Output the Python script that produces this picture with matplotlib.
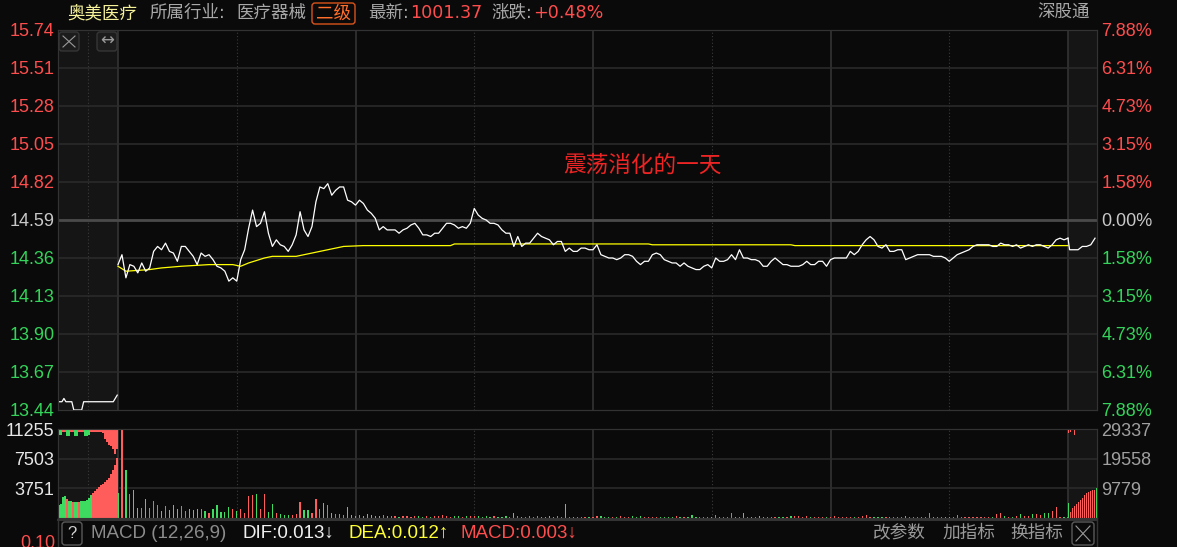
import matplotlib
matplotlib.use("Agg")
import matplotlib.pyplot as plt
from matplotlib.patches import FancyBboxPatch
from matplotlib.lines import Line2D
import numpy as np

plt.rcParams['font.family'] = ['Liberation Sans', 'Noto Sans CJK SC', 'DejaVu Sans']

# ---------------- data ----------------
PREV_CLOSE = 14.59
price_ticks = [13.44, 13.67, 13.90, 14.13, 14.36, 14.59, 14.82, 15.05, 15.28, 15.51, 15.74]
vol_max_left = 11255
vol_max_right = 29337

# one price per minute, 9:30 .. 11:30/13:00 .. 15:00
prices = [
    14.32, 14.38, 14.24, 14.32, 14.31, 14.27, 14.33, 14.28, 14.30, 14.40,
    14.43, 14.41, 14.45, 14.40, 14.39, 14.34, 14.43, 14.43, 14.40, 14.37,
    14.32, 14.39, 14.37, 14.38, 14.35, 14.31, 14.30, 14.28, 14.22, 14.24,
    14.22, 14.35, 14.41, 14.54, 14.65, 14.55, 14.57, 14.64, 14.51, 14.43,
    14.47, 14.44, 14.43, 14.40, 14.44, 14.50, 14.64, 14.53, 14.49, 14.55,
    14.70, 14.79, 14.78, 14.81, 14.74, 14.77, 14.79, 14.79, 14.71, 14.70,
    14.68, 14.71, 14.69, 14.65, 14.63, 14.60, 14.53, 14.55, 14.53, 14.53,
    14.53, 14.51, 14.53, 14.54, 14.56, 14.57, 14.54, 14.50, 14.50, 14.49,
    14.51, 14.51, 14.54, 14.57, 14.57, 14.56, 14.54, 14.55, 14.54, 14.57,
    14.66, 14.62, 14.60, 14.59, 14.57, 14.57, 14.56, 14.53, 14.51, 14.51,
    14.43, 14.49, 14.43, 14.45, 14.45, 14.48, 14.51, 14.49, 14.48, 14.47,
    14.44, 14.46, 14.46, 14.40, 14.42, 14.40, 14.40, 14.42, 14.42, 14.41,
    14.41, 14.44, 14.38, 14.37, 14.36, 14.36, 14.35, 14.36, 14.38, 14.38,
    14.37, 14.34, 14.32, 14.34, 14.34, 14.38, 14.39, 14.38, 14.35, 14.34,
    14.33, 14.33, 14.31, 14.33, 14.31, 14.30, 14.29, 14.29, 14.31, 14.32,
    14.30, 14.36, 14.34, 14.34, 14.35, 14.38, 14.35, 14.41, 14.36, 14.36,
    14.35, 14.35, 14.34, 14.31, 14.31, 14.34, 14.36, 14.34, 14.32, 14.32,
    14.31, 14.31, 14.31, 14.32, 14.34, 14.32, 14.32, 14.34, 14.34, 14.31,
    14.35, 14.36, 14.36, 14.36, 14.36, 14.40, 14.38, 14.40, 14.44, 14.47,
    14.49, 14.47, 14.43, 14.42, 14.44, 14.40, 14.40, 14.41, 14.41, 14.35,
    14.36, 14.37, 14.38, 14.38, 14.38, 14.38, 14.37, 14.37, 14.37, 14.36,
    14.34, 14.36, 14.38, 14.39, 14.40, 14.41, 14.43, 14.44, 14.44, 14.44,
    14.44, 14.43, 14.43, 14.45, 14.44, 14.44, 14.43, 14.44, 14.42, 14.43,
    14.44, 14.43, 14.44, 14.44, 14.43, 14.42, 14.44, 14.47, 14.48, 14.47, 14.48,
]

avg_minutes = [0, 2, 8, 11, 16, 23, 29, 31, 33, 37, 39, 45, 49, 53, 57, 62, 84, 85, 134, 135, 170, 171, 240]
avg_prices = [14.31, 14.28, 14.29, 14.30, 14.31, 14.32, 14.32, 14.31, 14.33, 14.36, 14.37, 14.37,
              14.39, 14.41, 14.43, 14.435, 14.435, 14.445, 14.445, 14.44, 14.44, 14.435, 14.435]

volumes = [
    3200, 13000, 6070, 3040, 3540, 1230, 1230, 2400, 1300, 2110,
    1640, 920, 1520, 1010, 1640, 1100, 1520, 920, 1140, 1010,
    1100, 1140, 920, 670, 1100, 1640, 800, 800, 1350, 1100,
    920, 1140, 670, 2780, 2870, 3000, 1180, 3000, 760, 1810,
    675, 550, 340, 340, 420, 550, 2030, 970, 970, 675,
    2450, 1180, 1940, 1600, 675, 550, 550, 340, 1390, 340,
    250, 340, 210, 550, 340, 250, 210, 380, 210, 250,
    210, 170, 250, 210, 170, 210, 250, 170, 210, 170,
    210, 250, 340, 210, 170, 250, 210, 170, 250, 210,
    300, 210, 170, 210, 170, 210, 170, 170, 210, 170,
    630, 210, 170, 170, 210, 170, 210, 170, 170, 210,
    170, 210, 170, 1730, 170, 130, 170, 130, 170, 130,
    170, 300, 300, 130, 130, 130, 130, 200, 130, 130,
    200, 130, 250, 130, 130, 130, 130, 130, 130, 130,
    130, 200, 130, 130, 130, 340, 130, 130, 130, 130,
    130, 340, 130, 130, 130, 630, 130, 130, 630, 130,
    130, 130, 200, 130, 130, 130, 130, 130, 130, 130,
    200, 200, 250, 130, 250, 130, 130, 130, 130, 130,
    130, 200, 130, 130, 130, 130, 130, 130, 250, 340,
    130, 130, 130, 130, 130, 130, 130, 130, 130, 250,
    130, 130, 130, 130, 130, 590, 130, 130, 130, 130,
    130, 130, 380, 130, 130, 130, 130, 130, 130, 130,
    130, 130, 506, 633, 295, 130, 130, 300, 464, 295,
    295, 464, 549, 330, 590, 675, 850, 1380, 100, 100, 100,
]

# call auction before the open (left shaded block)
auc_prices = [13.49, 13.49, 13.49, 13.51, 13.49, 13.49, 13.49, 13.49, 13.44, 13.44,
              13.44, 13.44, 13.44, 13.49, 13.49, 13.49, 13.49, 13.49, 13.49, 13.49,
              13.49, 13.49, 13.49, 13.49, 13.49, 13.49, 13.49, 13.49, 13.49, 13.51, 13.53]
auc_vol_bottom = [1640, 1770, 2660, 2780, 2400, 2150, 2150, 2020, 2020, 2020,
                  2020, 2150, 2150, 2150, 2280, 2530, 2910, 3160, 3420, 3670,
                  3920, 4170, 4300, 4550, 4810, 5060, 5570, 6070, 6700, 7590]
auc_bottom_colors = "GGGGRGGRGGRGGGGGGRRRRRRRRRRRRR"
auc_vol_top = [760, 760, 380, 380, 890, 890, 380, 380, 890, 890,
               380, 380, 380, 890, 890, 760, 380, 380, 380, 380,
               380, 380, 510, 1270, 1640, 2020, 2150, 2530, 3160, 2530]
auc_top_colors = "GGRRGGRRGGRRRGGGRRRRRRRRRRRRRR"

# right shaded block (right-hand volume scale)
post_prices = [14.41, 14.41, 14.41, 14.43, 14.43, 14.44, 14.48]
post_vol_bottom = [5040, 2090, 3400, 4060, 4610, 5380, 5930, 6480, 7580, 8130, 8680, 8900, 9230, 9230, 9780]
post_bottom_colors = "GRRRRRRRRRRRRRG"
post_vol_top = [1200, 990, 330, 2090, 330, 330, 330, 330, 330, 330, 330, 330, 330, 330, 330]
post_top_colors = "RRRRRRRRRRRRRRG"

# ---------------- layout ----------------
W, H = 1177, 547
X0, X1 = 58, 1097
PX_PER_MIN = 950 / 240
AUC_W = 60 / PX_PER_MIN
POST_W = 29 / PX_PER_MIN

BG = '#0a0a0a'
SHADE = '#151515'
GRID = '#2c2c2c'
RED = '#ff4d4d'
GREEN = '#33d45a'
BAR_RED = '#ff5c5c'
BAR_GREEN = '#3ddc60'
GRAY = '#a8a8a8'


def fx(px):
    return px / W


def fy(py):
    return 1 - py / H


def bar_colors(s):
    return [BAR_RED if c == 'R' else BAR_GREEN for c in s]


fig = plt.figure(figsize=(W / 100, H / 100), dpi=100)
fig.patch.set_facecolor(BG)

ax = fig.add_axes([fx(X0), fy(410), fx(X1) - fx(X0), (410 - 30) / H])
axv = fig.add_axes([fx(X0), fy(518), fx(X1) - fx(X0), (518 - 429) / H])

for a in (ax, axv):
    a.set_facecolor(BG)
    a.set_xlim(-AUC_W, 240 + POST_W)
    a.axvspan(-AUC_W, 0, color=SHADE, zorder=0, lw=0)
    a.axvspan(240, 240 + POST_W, color=SHADE, zorder=0, lw=0)
    for m in (0, 60, 120, 180, 240):
        a.axvline(m, color='#343434', lw=1.2, zorder=1)
    for m in (-AUC_W / 2, 30, 90, 150, 210):
        a.axvline(m, color='#3a3a3a', lw=0.8, ls=(0, (1, 2)), zorder=1)
    a.set_xticks([])
    for sp in a.spines.values():
        sp.set_color('#333333')

# ---- price panel ----
ax.set_ylim(price_ticks[0], price_ticks[-1])
for p in price_ticks[1:-1]:
    ax.axhline(p, color=GRID, lw=1.1, zorder=1)
ax.axhline(PREV_CLOSE, color='#4a4a4a', lw=2, zorder=1)

minutes = np.arange(len(prices))
ax.plot(minutes, prices, color='white', lw=0.9, zorder=3)
ax.plot(avg_minutes, avg_prices, color='#ffff00', lw=0.9, zorder=2)

auc_x = np.linspace(-AUC_W, -0.2, len(auc_prices))
ax.plot(np.r_[auc_x[0], auc_x], np.r_[PREV_CLOSE, auc_prices], color='white', lw=0.9, zorder=3)

post_x = np.linspace(240.4, 240 + POST_W - 0.5, len(post_prices))
ax.plot(np.r_[minutes[-1], post_x], np.r_[prices[-1], post_prices], color='white', lw=0.9, zorder=3)

ax.set_yticks(price_ticks)
ax.set_yticklabels([f"{p:.2f}" for p in price_ticks])
ax.tick_params(axis='y', length=0, pad=2.5, labelsize=13)
for lab, p in zip(ax.get_yticklabels(), price_ticks):
    lab.set_color(RED if p > PREV_CLOSE else (GREEN if p < PREV_CLOSE else '#c8c8c8'))

axr = ax.twinx()
axr.set_ylim(ax.get_ylim())
axr.set_yticks(price_ticks)
axr.set_yticklabels([f"{abs(p - PREV_CLOSE) / PREV_CLOSE * 100:.2f}%" for p in price_ticks])
axr.tick_params(axis='y', length=0, pad=3, labelsize=13)
for lab, p in zip(axr.get_yticklabels(), price_ticks):
    lab.set_color(RED if p > PREV_CLOSE else (GREEN if p < PREV_CLOSE else '#c8c8c8'))
for sp in axr.spines.values():
    sp.set_color('#333333')

# ---- volume panel ----
axv.set_ylim(0, vol_max_left)
for v in (vol_max_left / 3, vol_max_left * 2 / 3):
    axv.axhline(v, color=GRID, lw=1.1, zorder=1)

prev = np.r_[PREV_CLOSE, prices[:-1]]
vcol = [BAR_RED if p >= q else BAR_GREEN for p, q in zip(prices, prev)]
axv.bar(minutes, volumes, width=0.3, color=vcol, zorder=3)

slot = AUC_W / len(auc_vol_bottom)
auc_bx = -AUC_W + slot * (np.arange(len(auc_vol_bottom)) + 0.5)
axv.bar(auc_bx, auc_vol_bottom, width=slot, color=bar_colors(auc_bottom_colors), zorder=3, lw=0)
axv.bar(auc_bx, -np.array(auc_vol_top), bottom=vol_max_left, width=slot,
        color=bar_colors(auc_top_colors), zorder=3, lw=0)

axv.set_yticks([vol_max_left / 3, vol_max_left * 2 / 3, vol_max_left])
axv.set_yticklabels([str(int(v)) for v in (vol_max_left / 3, vol_max_left * 2 / 3, vol_max_left)])
axv.tick_params(axis='y', length=0, pad=2.5, labelsize=13, labelcolor='#e6e6e6')

axv2 = axv.twinx()
axv2.set_ylim(0, vol_max_right)
pslot = POST_W / len(post_vol_bottom)
post_bx = 240 + pslot * (np.arange(len(post_vol_bottom)) + 0.5)
axv2.bar(post_bx, post_vol_bottom, width=pslot * 0.55, color=bar_colors(post_bottom_colors), lw=0)
axv2.bar(post_bx, -np.array(post_vol_top), bottom=vol_max_right, width=pslot * 0.55,
         color=bar_colors(post_top_colors), lw=0)
axv2.set_yticks([vol_max_right / 3, vol_max_right * 2 / 3, vol_max_right])
axv2.set_yticklabels([str(round(v)) for v in (vol_max_right / 3, vol_max_right * 2 / 3, vol_max_right)])
axv2.tick_params(axis='y', length=0, pad=3, labelsize=13, labelcolor='#a0a0a0')
for sp in axv2.spines.values():
    sp.set_color('#333333')


# ---- texts ----
def ftext(x, y, s, color, size=12.6, ha='left', **kw):
    return fig.text(fx(x), fy(y), s, color=color, fontsize=size, ha=ha, va='center', **kw)


renderer = fig.canvas.get_renderer()


def after(t, gap=1):
    # pixel x right after an already placed text
    return t.get_window_extent(renderer).x1 + gap


HEAD = ['DejaVu Sans', 'Noto Sans CJK SC']
ftext(67, 13, "奥美医疗", '#f6f29a', family=HEAD)
ftext(150, 13, "所属行业:", GRAY, family=HEAD)
ftext(236, 13, "医疗器械", GRAY, family=HEAD)
ftext(333.5, 13.5, "二级", '#ff6e2a', ha='center', family=HEAD)
t = ftext(368, 13, "最新:", GRAY, family=HEAD)
ftext(after(t), 13, "1001.37", RED, family=HEAD)
t = ftext(491, 13, "涨跌:", GRAY, family=HEAD)
ftext(after(t), 13, "+0.48%", RED, family=HEAD)
ftext(1037, 13, "深股通", GRAY, family=HEAD)

ftext(563, 165, "震荡消化的一天", '#ee2424', size=16.3, family=['Noto Sans CJK SC'])


def box(x0, y0, x1, y1, ec, fc='none'):
    fig.add_artist(FancyBboxPatch((x0 / 100, (H - y1) / 100), (x1 - x0) / 100, (y1 - y0) / 100,
                                  boxstyle="round,pad=0,rounding_size=0.03",
                                  transform=fig.dpi_scale_trans, ec=ec, fc=fc, lw=1))


def cross(x0, y0, x1, y1, color):
    for xs, ys in (((x0, x1), (y0, y1)), ((x0, x1), (y1, y0))):
        fig.add_artist(Line2D([fx(v) for v in xs], [fy(v) for v in ys], color=color, lw=0.8,
                              transform=fig.transFigure))


box(312, 3, 355, 24, '#d9541a')
box(59, 32, 79, 51, '#363636', '#1c1c1c')
cross(63, 36, 75, 47, '#9a9a9a')
box(97, 32, 117, 51, '#363636', '#1c1c1c')
ftext(107, 41, "↔", '#9a9a9a', size=12, ha='center', family=['DejaVu Sans'])

# ---- bottom indicator strip ----
fig.add_artist(Line2D([fx(X0), fx(X1)], [fy(519.5), fy(519.5)], color='#333333', lw=1.5,
                      transform=fig.transFigure))
for xv in (X0, X1):
    fig.add_artist(Line2D([fx(xv), fx(xv)], [fy(518), fy(547)], color='#333333', lw=1,
                          transform=fig.transFigure))
box(62, 522, 82, 545, '#5a5a5a')
ftext(72, 533.5, "?", '#d0d0d0', size=12, ha='center')
ftext(91, 533.5, "MACD (12,26,9)", '#8c8c8c', size=13.5)
ftext(243, 533.5, "DIF:0.013↓", '#f0f0f0', size=13.5)
ftext(348, 533.5, "DEA:0.012↑", '#ffff33', size=13.5)
ftext(461, 533.5, "MACD:0.003↓", RED, size=13.5)
ftext(872, 533.5, "改参数", '#9a9a9a', size=12.7)
ftext(942, 533.5, "加指标", '#9a9a9a', size=12.7)
ftext(1010, 533.5, "换指标", '#9a9a9a', size=12.7)
box(1072, 522, 1094, 545, '#5a5a5a')
cross(1076, 526, 1090, 541, '#9a9a9a')
ftext(55, 544, "0.10", RED, size=13, ha='right')

fig.savefig("out.png", dpi=100, facecolor=BG)
